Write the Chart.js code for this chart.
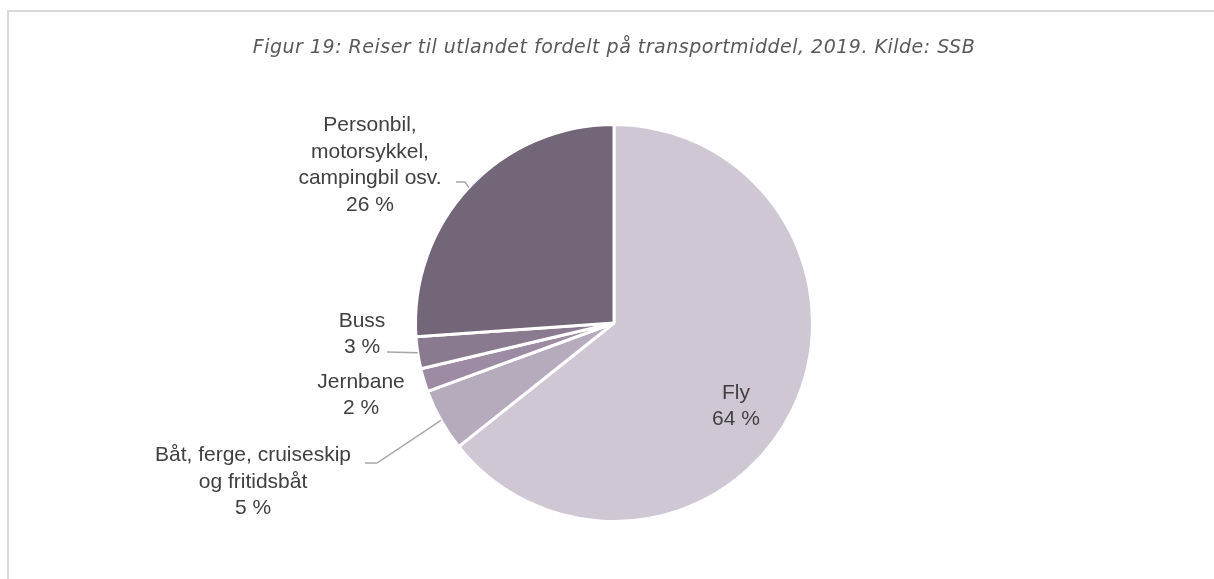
<!DOCTYPE html>
<html>
<head>
<meta charset="utf-8">
<script src="https://cdn.jsdelivr.net/npm/chart.js@4"></script>
<style>
  html, body { margin: 0; padding: 0; background: #fff; overflow: hidden; }
  #frame { position: absolute; left: 7px; top: 10px; width: 1400px; height: 800px; border: 2px solid #d9d9d9; }
  #chart { position: absolute; left: 0; top: 0; }
</style>
</head>
<body>
<div id="frame"></div>
<canvas id="chart" width="1214" height="579"></canvas>
<script>
// Data
const titleText = 'Figur 19: Reiser til utlandet fordelt på transportmiddel, 2019. Kilde: SSB';
const categories = ['Fly', 'Båt, ferge, cruiseskip og fritidsbåt', 'Jernbane', 'Buss', 'Personbil, motorsykkel, campingbil osv.'];
const labelLines = [
  ['Fly'],
  ['Båt, ferge, cruiseskip', 'og fritidsbåt'],
  ['Jernbane'],
  ['Buss'],
  ['Personbil,', 'motorsykkel,', 'campingbil osv.']
];
const shares = [64.3, 5.1, 1.9, 2.6, 26.1];
const sliceColors = ['#cfc8d4', '#b6aabd', '#9c8ba2', '#8a7a90', '#736679'];

// Label placement, relative to the pie centre (px)
const labelOffsets = [[122, 83], [-361, 159], [-253, 72], [-252, 11], [-244, -158]];
// Leader lines: start point and optional elbow, relative to the pie centre; end is on the arc
const leaders = [
  null,
  [[-249, 140], [-237, 140]],
  null,
  [[-227, 29]],
  [[-158, -141], [-149, -141]]
];

const FONT = '"Liberation Sans", Arial, sans-serif';

// Plugin for title, labels and leader lines
const labelPlugin = {
  id: 'pieLabels',
  afterDraw(chart) {
    const ctx = chart.ctx;
    const arcs = chart.getDatasetMeta(0).data;
    const cx = arcs[0].x, cy = arcs[0].y;

    ctx.save();
    // title
    ctx.font = 'italic 19px "DejaVu Sans", sans-serif';
    ctx.letterSpacing = '0.5px';
    ctx.fillStyle = '#595959';
    ctx.textAlign = 'center';
    ctx.textBaseline = 'alphabetic';
    ctx.fillText(titleText, cx, 53);
    ctx.letterSpacing = '0px';

    // leaders
    ctx.strokeStyle = '#a6a6a6';
    ctx.lineWidth = 1.5;
    arcs.forEach((arc, i) => {
      const pts = leaders[i];
      if (!pts) return;
      const mid = (arc.startAngle + arc.endAngle) / 2;
      const r = arc.outerRadius;
      ctx.beginPath();
      ctx.moveTo(cx + pts[0][0], cy + pts[0][1]);
      for (let k = 1; k < pts.length; k++) ctx.lineTo(cx + pts[k][0], cy + pts[k][1]);
      ctx.lineTo(cx + Math.cos(mid) * r, cy + Math.sin(mid) * r);
      ctx.stroke();
    });

    // labels
    ctx.font = '21px ' + FONT;
    ctx.fillStyle = '#404040';
    ctx.textBaseline = 'middle';
    const lh = 26.5;
    arcs.forEach((arc, i) => {
      const lines = labelLines[i].concat([Math.round(shares[i]) + ' %']);
      const x = cx + labelOffsets[i][0];
      const y0 = cy + labelOffsets[i][1] - (lines.length - 1) * lh / 2;
      lines.forEach((t, k) => ctx.fillText(t, x, y0 + k * lh));
    });
    ctx.restore();
  }
};

new Chart(document.getElementById('chart'), {
  type: 'pie',
  data: {
    labels: categories,
    datasets: [{
      data: shares,
      backgroundColor: sliceColors,
      borderColor: '#ffffff',
      borderWidth: 3
    }]
  },
  options: {
    responsive: false,
    animation: false,
    devicePixelRatio: 1,
    layout: { padding: { top: 123, bottom: 56, left: 14, right: 0 } },
    plugins: {
      legend: { display: false },
      tooltip: { enabled: false },
      title: { display: false }
    }
  },
  plugins: [labelPlugin]
});
</script>
</body>
</html>
